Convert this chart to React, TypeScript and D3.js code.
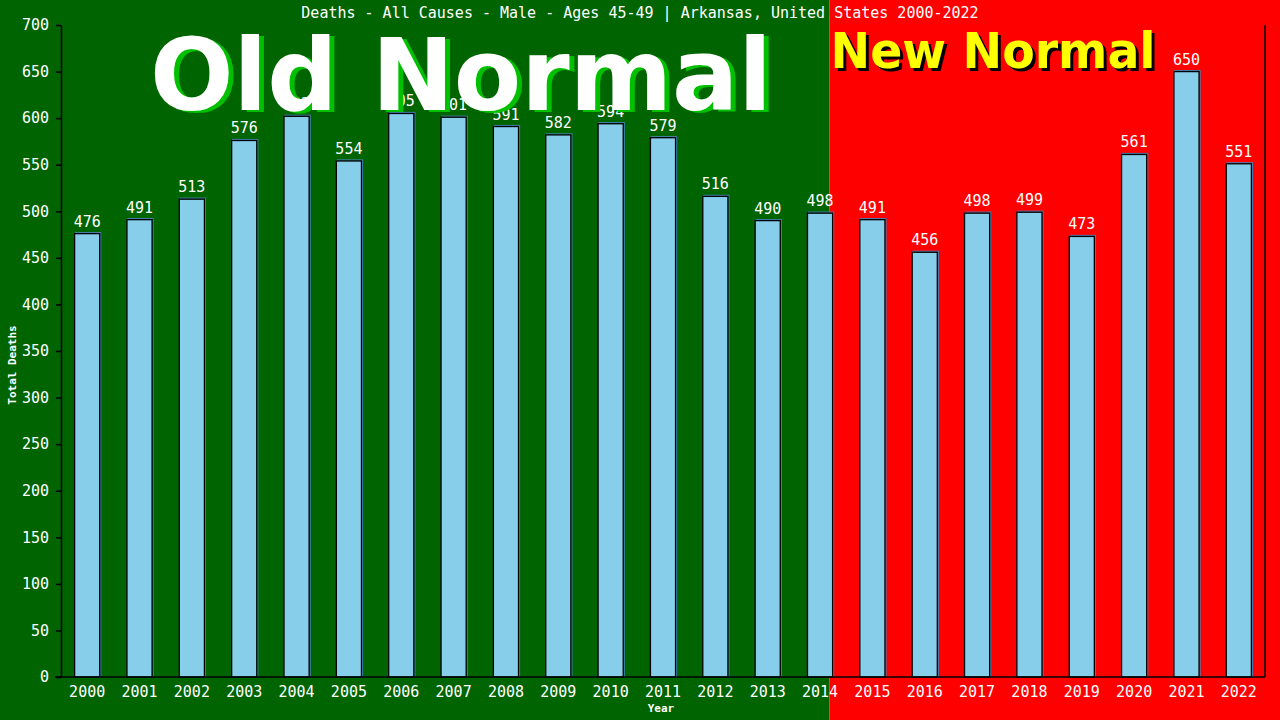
import React, { useEffect, useRef } from "react";
import * as d3 from "d3";

const years = ["2000", "2001", "2002", "2003", "2004", "2005", "2006", "2007", "2008", "2009", "2010", "2011",
  "2012", "2013", "2014", "2015", "2016", "2017", "2018", "2019", "2020", "2021", "2022"];
const deaths = [476, 491, 513, 576, 602, 554, 605, 601, 591, 582, 594, 579,
  516, 490, 498, 491, 456, 498, 499, 473, 561, 650, 551];
const yTicks = [0, 50, 100, 150, 200, 250, 300, 350, 400, 450, 500, 550, 600, 650, 700];

const title = "Deaths - All Causes - Male - Ages 45-49 | Arkansas, United States 2000-2022";

const W = 1280, H = 720;
const mono = "'DejaVu Sans Mono', monospace";
const bold = "'DejaVu Sans', Verdana, sans-serif";

export default function App() {
  const ref = useRef<SVGSVGElement>(null);

  useEffect(() => {
    const svg = d3.select(ref.current);
    svg.selectAll("*").remove();

    const left = 61, right = 1265, top = 25, bottom = 677;

    const x = d3.scaleBand()
      .domain(years)
      .range([left, right])
      .paddingInner(0.52)
      .paddingOuter(0.26);

    const y = d3.scaleLinear()
      .domain([0, 700])
      .range([bottom, top]);

    // background split: old vs new normal
    const split = (x("2014") as number) + x.bandwidth() * 0.88;
    svg.append("rect").attr("x", 0).attr("y", 0).attr("width", split).attr("height", H).attr("fill", "#006400");
    svg.append("rect").attr("x", split).attr("y", 0).attr("width", W - split).attr("height", H).attr("fill", "#ff0000");

    const data = years.map((yr, i) => ({ yr, v: deaths[i] }));

    // bar shadows
    svg.append("g").selectAll("rect")
      .data(data)
      .join("rect")
      .attr("x", d => (x(d.yr) as number) + 1)
      .attr("y", d => y(d.v) - 1)
      .attr("width", x.bandwidth())
      .attr("height", d => bottom - y(d.v) + 1)
      .attr("fill", "none")
      .attr("stroke", "#4682b4")
      .attr("stroke-width", 1.2);

    svg.append("g").selectAll("rect")
      .data(data)
      .join("rect")
      .attr("x", d => x(d.yr) as number)
      .attr("y", d => y(d.v))
      .attr("width", x.bandwidth())
      .attr("height", d => bottom - y(d.v))
      .attr("fill", "#87ceeb")
      .attr("stroke", "#000")
      .attr("stroke-width", 1.3);

    // value labels
    svg.append("g").selectAll("text")
      .data(data)
      .join("text")
      .attr("x", d => (x(d.yr) as number) + x.bandwidth() / 2)
      .attr("y", d => y(d.v) - 7)
      .attr("text-anchor", "middle")
      .attr("fill", "#fff")
      .style("font", `15px ${mono}`)
      .text(d => d.v);

    // y axis
    const yAxis = svg.append("g")
      .attr("transform", `translate(${left},0)`)
      .call(d3.axisLeft(y).tickValues(yTicks).tickSize(5).tickPadding(7).tickSizeOuter(0));
    yAxis.select(".domain").attr("stroke", "#000").attr("stroke-width", 1.5);
    yAxis.selectAll(".tick line").attr("stroke", "#000").attr("stroke-width", 1.5);
    yAxis.selectAll(".tick text").attr("fill", "#fff").style("font", `15px ${mono}`);

    // x axis
    const xAxis = svg.append("g")
      .attr("transform", `translate(0,${bottom})`)
      .call(d3.axisBottom(x).tickSize(0).tickPadding(9));
    xAxis.select(".domain").attr("stroke", "none");
    xAxis.selectAll(".tick text").attr("fill", "#fff").style("font", `15px ${mono}`);
    svg.append("line")
      .attr("x1", left - 6).attr("x2", right)
      .attr("y1", bottom).attr("y2", bottom)
      .attr("stroke", "#000").attr("stroke-width", 1.5);
    svg.append("line")
      .attr("x1", right).attr("x2", right)
      .attr("y1", top).attr("y2", bottom)
      .attr("stroke", "#000").attr("stroke-width", 1.5);

    // axis titles
    svg.append("text")
      .attr("transform", `translate(16,${(top + bottom) / 2 + 14}) rotate(-90)`)
      .attr("text-anchor", "middle")
      .attr("fill", "#fff")
      .style("font", `bold 11px ${mono}`)
      .text("Total Deaths");
    svg.append("text")
      .attr("x", 661).attr("y", 712)
      .attr("text-anchor", "middle")
      .attr("fill", "#fff")
      .style("font", `bold 11px ${mono}`)
      .text("Year");

    // big overlays
    const oldX = 150, oldY = 110;
    svg.append("text").attr("x", oldX + 5).attr("y", oldY + 2)
      .attr("fill", "#00c000").style("font", `bold 100px ${bold}`)
      .attr("textLength", 622).attr("lengthAdjust", "spacingAndGlyphs")
      .text("Old Normal");
    svg.append("text").attr("x", oldX).attr("y", oldY)
      .attr("fill", "#fff").style("font", `bold 100px ${bold}`)
      .attr("textLength", 622).attr("lengthAdjust", "spacingAndGlyphs")
      .text("Old Normal");

    const newX = split + 1, newY = 68;
    svg.append("text").attr("x", newX + 3).attr("y", newY + 3)
      .attr("fill", "#000").style("font", `bold 50px ${bold}`)
      .attr("textLength", 325).attr("lengthAdjust", "spacingAndGlyphs")
      .text("New Normal");
    svg.append("text").attr("x", newX).attr("y", newY)
      .attr("fill", "#ffff00").style("font", `bold 50px ${bold}`)
      .attr("textLength", 325).attr("lengthAdjust", "spacingAndGlyphs")
      .text("New Normal");

    // title
    svg.append("text")
      .attr("x", 640).attr("y", 18)
      .attr("text-anchor", "middle")
      .attr("fill", "#fff")
      .style("font", `15px ${mono}`)
      .text(title);
  }, []);

  return (
    <svg ref={ref} width={W} height={H}
      style={{ position: "absolute", left: 0, top: 0, display: "block" }} />
  );
}
